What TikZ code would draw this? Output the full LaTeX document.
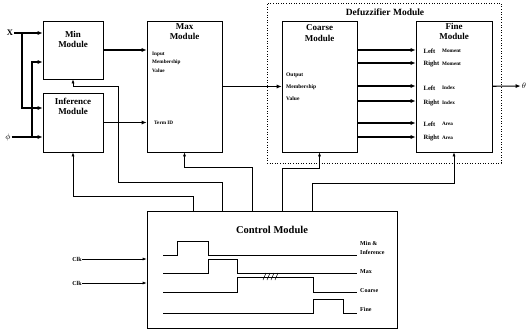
\documentclass[tikz,border=0pt]{standalone}
\usepackage{fontspec}
\setmainfont{Liberation Serif}
\usetikzlibrary{arrows.meta,positioning}
\tikzset{
  >={Latex[length=4pt,width=3pt]},
  flow/.style={-{Latex[length=5pt,width=4pt]}, line width=1.1pt, draw=black},
  ctl/.style={->, line width=0.6pt, draw=black},
  wave/.style={line width=0.7pt, draw=black},
  modbox/.style={draw=black, line width=0.6pt, inner sep=0pt},
  groupbox/.style={draw=black, line width=0.6pt, dotted, inner sep=0pt},
  modtitle/.style={font=\fontsize{9}{10.5}\selectfont\bfseries, align=center, inner sep=0pt},
  tinylabel/.style={font=\fontsize{5.2}{8.5}\selectfont\bfseries, align=left, inner sep=0pt, anchor=west},
  sidelabel/.style={font=\fontsize{6.5}{8}\selectfont\bfseries, inner sep=0pt, anchor=west},
  wavelabel/.style={font=\fontsize{6}{9}\selectfont\bfseries, align=left, inner sep=0pt, anchor=west},
  inlabel/.style={font=\fontsize{8.5}{10}\selectfont\bfseries, inner sep=1pt}
}
\begin{document}
\begin{tikzpicture}[x=1pt, y=-1pt]
  \useasboundingbox (0,0) rectangle (529,332);

  % modules
  \node[modbox, minimum width=60pt, minimum height=58pt] (min) at (73,50) {};
  \node[modbox, minimum width=60pt, minimum height=59pt] (inf) at (73,122.5) {};
  \node[modbox, minimum width=75pt, minimum height=131pt] (max) at (184.5,86.5) {};
  \node[groupbox, minimum width=234pt, minimum height=160pt] (defuzz) at (384,83) {};
  \node[modbox, minimum width=75pt, minimum height=131pt] (coarse) at (319.5,86.5) {};
  \node[modbox, minimum width=76pt, minimum height=131pt] (fine) at (454,86.5) {};
  \node[modbox, minimum width=250pt, minimum height=117pt] (ctrl) at (272,270) {};

  \node[modtitle, below=10pt of min.north] (mintitle) {Min\\Module};
  \node[modtitle, below=5pt of inf.north] (inftitle) {Inference\\Module};
  \node[modtitle, below=2.5pt of max.north] (maxtitle) {Max\\Module};
  \node[modtitle, below=4pt of coarse.north] (coarsetitle) {Coarse\\Module};
  \node[modtitle, below=2pt of fine.north] (finetitle) {Fine\\Module};
  \node[modtitle, font=\fontsize{9.5}{11}\selectfont\bfseries] (defuzztitle) at (385,12) {Defuzzifier Module};
  \node[modtitle, font=\fontsize{10.5}{12}\selectfont\bfseries] (ctrltitle) at (272,230) {Control Module};

  \node[tinylabel] (maxin) at (152,62) {Input\\Membership\\Value};
  \node[tinylabel] (maxterm) at (154,123) {Term ID};
  \node[tinylabel, font=\fontsize{5.5}{12}\selectfont\bfseries] (coarseout) at (286,87) {Output\\Membership\\Value};

  % inputs
  \node[inlabel] (xlbl) at (10,33) {X};
  \node[inlabel] (philbl) at (8,137) {$\phi$};
  \coordinate (xsplit) at (22,33);
  \coordinate (phisplit) at (32,137);
  \draw[flow] (xlbl) -- (xlbl -| min.west);
  \draw[flow] (xsplit) |- ([yshift=14.5pt]inf.west);
  \draw[flow] (philbl) -- (philbl -| inf.west);
  \draw[flow] (phisplit) |- ([yshift=-12pt]min.west);

  % data path
  \draw[flow] (min) -- (min -| max.west);
  \draw[flow] (inf) -- (inf -| max.west);
  \draw[flow] (max) -- (coarse);
  \foreach \yy in {50,63,86,101,123,137} {
    \coordinate (row\yy) at (0,\yy);
    \draw[flow] (coarse.east |- row\yy) -- (fine.west |- row\yy);
  }
  \foreach \yy/\side/\what in {51/Left/Moment, 64/Right/Moment, 88/Left/Index,
                               103/Right/Index, 124/Left/Area, 138/Right/Area} {
    \node[sidelabel] (side\yy) at (423.5,\yy) {\side};
    \node[tinylabel] (what\yy) at (442,\yy) {\what};
  }
  \node[inlabel] (theta) at (524,86) {$\theta$};
  \draw[flow] (fine) -- (theta);

  % control lines
  \coordinate (tapmin) at (222,0);
  \coordinate (tapinf) at (193,0);
  \coordinate (tapmax) at (252,0);
  \coordinate (tapcoarse) at (282,0);
  \coordinate (tapfine) at (312,0);
  \draw[ctl] (ctrl.north -| tapmin) |- (118,182) |- (73,86) -- (min.south);
  \draw[ctl] (ctrl.north -| tapinf) |- (73,196) -- (inf.south);
  \draw[ctl] (ctrl.north -| tapmax) |- (184.5,167) -- (max.south);
  \draw[ctl] (ctrl.north -| tapcoarse) |- (319.5,168) -- (coarse.south);
  \draw[ctl] (ctrl.north -| tapfine) |- (454,183) -- (fine.south);

  % clocks
  \node[wavelabel, anchor=center] (clka) at (77,259) {Clk};
  \node[wavelabel, anchor=center] (clkb) at (77,283) {Clk};
  \draw[ctl] (clka) -- (clka -| ctrl.west);
  \draw[ctl] (clkb) -- (clkb -| ctrl.west);

  % timing
  \draw[wave] (163,255) -| (177,241) -| (208,255) -- (357,255);
  \draw[wave] (163,273) -| (208,259) -| (237,273) -- (357,273);
  \draw[wave] (163,292) -| (237,277) -| (313,292) -- (357,292);
  \draw[wave] (163,313) -| (313,299) -| (343,313) -- (357,313);
  \foreach \i in {0,1,2,3}
    \draw[line width=0.5pt] (263+4*\i,280) -- ++(3,-7);
  \node[wavelabel] (wmin) at (360,248) {Min \&\\Inference};
  \node[wavelabel] (wmax) at (360,272) {Max};
  \node[wavelabel] (wcoarse) at (360,291) {Coarse};
  \node[wavelabel] (wfine) at (360,309) {Fine};
\end{tikzpicture}
\end{document}
